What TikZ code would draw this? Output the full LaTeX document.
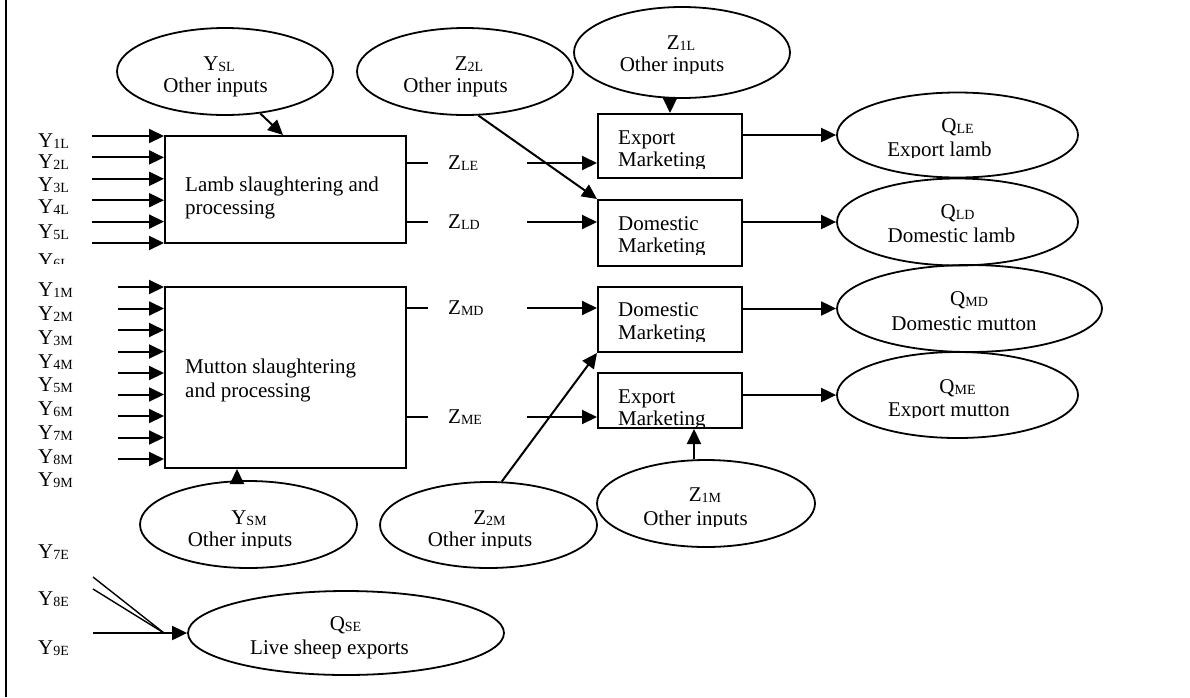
\documentclass[tikz,border=0pt]{standalone}
\usepackage{fontspec}
\setmainfont{Liberation Serif}
\usetikzlibrary{arrows.meta,shapes.geometric}
\newcommand\sub[1]{{\fontsize{14}{14}\selectfont\raisebox{-1.2pt}{#1}}}
\begin{document}
\begin{tikzpicture}[x=1pt,y=-1pt,
  every node/.style={font=\fontsize{21}{23}\selectfont},
  ln/.style={line width=2pt},
  thinln/.style={line width=1.4pt},
  arr/.style={line width=2pt,-{Triangle[length=15pt,width=14pt]}},
  ell/.style={draw,ellipse,line width=1.8pt,inner sep=0pt},
  boxn/.style={draw,rectangle,line width=2pt,inner sep=0pt},
  tx/.style={inner sep=0pt,anchor=base},
  txl/.style={inner sep=0pt,anchor=base west},
  zlab/.style={anchor=west,inner ysep=0pt,inner xsep=20pt,text width=59pt,align=left}
]
\useasboundingbox (0,0) rectangle (1190,697);
\draw[line width=2.2pt] (6,0) -- (6,697);

% ellipses
\node[ell,minimum width=216,minimum height=87] (ysl) at (225,71.5) {};
\node[ell,minimum width=216,minimum height=87] (ztwol) at (465,71.5) {};
\node[ell,minimum width=216,minimum height=91] (zonel) at (682,52.5) {};
\node[ell,minimum width=217,minimum height=87] (ysm) at (248.5,524.5) {};
\node[ell,minimum width=217,minimum height=86] (ztwom) at (488.5,525) {};
\node[ell,minimum width=218,minimum height=87] (zonem) at (706,503.5) {};
\node[ell,minimum width=316,minimum height=84] (qse) at (346,633) {};
\node[ell,minimum width=241,minimum height=85] (qle) at (957.5,135) {};
\node[ell,minimum width=241,minimum height=87] (qld) at (957.5,222) {};
\node[ell,minimum width=265,minimum height=87] (qmd) at (969.5,308.5) {};
\node[ell,minimum width=241,minimum height=86] (qme) at (957.5,395) {};

% boxes
\node[boxn,minimum width=241,minimum height=107] (lamb) at (285.5,189.5) {};
\node[boxn,minimum width=241,minimum height=181] (mutton) at (285.5,377.5) {};
\node[boxn,minimum width=144,minimum height=64] (expl) at (670,146) {};
\node[boxn,minimum width=144,minimum height=66] (doml) at (670,233) {};
\node[boxn,minimum width=144,minimum height=65] (domm) at (670,319.5) {};
\node[boxn,minimum width=144,minimum height=55] (expm) at (670,400.5) {};

% box texts
\node[txl] (tlamba) at (185,191.5) {Lamb slaughtering and};
\node[txl] (tlambb) at (185,214) {processing};
\node[txl] (tmuta) at (185,373) {Mutton slaughtering};
\node[txl] (tmutb) at (185,397.5) {and processing};
\node[txl] (texpla) at (618,144) {Export};
\begin{scope}\clip (600,140) rectangle (740,168); \node[txl] (texplb) at (618,166.5) {Marketing};\end{scope}
\node[txl] (tdomla) at (618,230.5) {Domestic};
\begin{scope}\clip (600,230) rectangle (740,254); \node[txl] (tdomlb) at (618,252.5) {Marketing};\end{scope}
\node[txl] (tdomma) at (618,316) {Domestic};
\begin{scope}\clip (600,316) rectangle (740,341); \node[txl] (tdommb) at (618,339.5) {Marketing};\end{scope}
\node[txl] (texpma) at (618,403) {Export};
\begin{scope}\clip (600,403) rectangle (740,427); \node[txl] (texpmb) at (618,425.7) {Marketing};\end{scope}

% ellipse texts
\node[tx] (tysla) at (219,70) {Y\sub{SL}};
\node[tx] (tyslb) at (215.5,92.7) {Other inputs};
\node[tx] (tztwola) at (469,70) {Z\sub{2L}};
\node[tx] (tztwolb) at (455.5,92) {Other inputs};
\node[tx] (tzonela) at (681,49) {Z\sub{1L}};
\begin{scope}\clip (600,50) rectangle (760,73); \node[tx] (tzonelb) at (672,71.7) {Other inputs};\end{scope}
\node[tx] (tysma) at (249,524) {Y\sub{SM}};
\begin{scope}\clip (160,526) rectangle (320,547.5); \node[tx] (tysmb) at (240,546) {Other inputs};\end{scope}
\node[tx] (tztwoma) at (489.5,524) {Z\sub{2M}};
\begin{scope}\clip (400,526) rectangle (560,547.5); \node[tx] (tztwomb) at (480,546) {Other inputs};\end{scope}
\node[tx] (tzonema) at (705,501.7) {Z\sub{1M}};
\begin{scope}\clip (620,503) rectangle (780,526.5); \node[tx] (tzonemb) at (695.5,525) {Other inputs};\end{scope}
\node[tx] (tqsea) at (345.5,630) {Q\sub{SE}};
\node[tx] (tqseb) at (329.5,654) {Live sheep exports};
\node[tx] (tqlea) at (957.5,132) {Q\sub{LE}};
\begin{scope}\clip (860,134) rectangle (1020,157.5); \node[tx] (tqleb) at (939.5,156) {Export lamb};\end{scope}
\node[tx] (tqlda) at (957.5,218) {Q\sub{LD}};
\node[tx] (tqldb) at (951.5,242.7) {Domestic lamb};
\node[tx] (tqmda) at (969,305) {Q\sub{MD}};
\node[tx] (tqmdb) at (964,330) {Domestic mutton};
\node[tx] (tqmea) at (957.5,393) {Q\sub{ME}};
\begin{scope}\clip (860,395) rectangle (1030,417.5); \node[tx] (tqmeb) at (949,416) {Export mutton};\end{scope}

% Z labels
\node[zlab] (zle) at (428,163) {Z\sub{LE}};
\node[zlab] (zld) at (428,222) {Z\sub{LD}};
\node[zlab] (zmd) at (428,308) {Z\sub{MD}};
\node[zlab] (zme) at (428,417) {Z\sub{ME}};

\draw[ln] (lamb.east |- zle) -- (zle.west);
\draw[arr] (zle.east) -- (expl.west |- zle);
\draw[ln] (lamb.east |- zld) -- (zld.west);
\draw[arr] (zld.east) -- (doml.west |- zld);
\draw[ln] (mutton.east |- zmd) -- (zmd.west);
\draw[arr] (zmd.east) -- (domm.west |- zmd);
\draw[ln] (mutton.east |- zme) -- (zme.west);
\draw[arr] (zme.east) -- (expm.west |- zme);

% outputs
\draw[arr] (expl.east |- qle.west) -- (qle.west);
\draw[arr] (doml.east |- qld.west) -- (qld.west);
\draw[arr] (domm.east |- qmd.west) -- (qmd.west);
\draw[arr] (expm.east |- qme.west) -- (qme.west);

% other inputs arrows
\draw[arr] (ysl.-50) -- ([xshift=-2.5pt]lamb.north);
\draw[arr] (ztwol.-73) -- (doml.north west);
\draw[arr] (zonel.south -| expl.north) -- (expl.north);
\draw[arr] ([xshift=-11.5pt]ysm.north) -- ([xshift=-11.5pt]ysm.north |- mutton.south);
\draw[arr] (ztwom.73) -- (domm.south west);
\draw[arr] ([xshift=-12pt]zonem.north) -- ([xshift=-12pt]zonem.north |- expm.south);

% lamb inputs
\foreach \y [count=\i] in {136,157.4,178.8,200.2,221.6,243} {
  \coordinate (li\i) at (92,\y);
  \draw[arr] (li\i) -- (lamb.west |- li\i);
}
\foreach \y/\t [count=\i] in {147/1L,168.5/2L,191/3L,213.5/4L,238/5L} {
  \node[txl] (yl\i) at (38,\y) {Y\sub{\t}};
}
\begin{scope}\clip (30,248) rectangle (90,263);
  \node[txl] (yl6) at (38,267) {Y\sub{6L}};
\end{scope}

% mutton inputs
\foreach \y [count=\i] in {287,308.5,330,351.5,373,394.5,416,437.5,459} {
  \coordinate (mi\i) at (118,\y);
  \draw[arr] (mi\i) -- (mutton.west |- mi\i);
}
\foreach \y/\t [count=\i] in {296.7/1M,320.5/2M,344.2/3M,368/4M,391.7/5M,415.5/6M,439.2/7M,463/8M,486.7/9M} {
  \node[txl] (ym\i) at (38,\y) {Y\sub{\t}};
}

% live sheep
\node[txl] (ye7) at (38,558) {Y\sub{7E}};
\node[txl] (ye8) at (38,605) {Y\sub{8E}};
\node[txl] (ye9) at (38,654.5) {Y\sub{9E}};
\coordinate (e7) at (93,577);
\coordinate (e8) at (93,589);
\coordinate (e9) at (93,633);
\coordinate (emeet) at (164,633);
\draw[thinln] (e7) -- (emeet);
\draw[thinln] (e8) -- (emeet);
\draw[arr] (e9) -- (qse.west);
\end{tikzpicture}
\end{document}
